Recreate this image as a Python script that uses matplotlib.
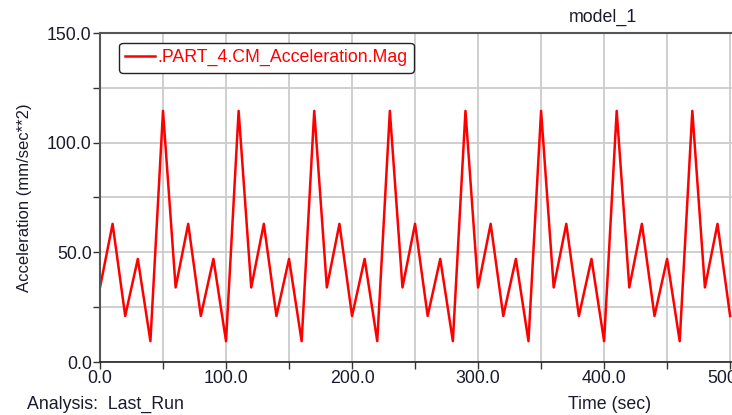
import numpy as np
import matplotlib.pyplot as plt
from matplotlib.ticker import MultipleLocator, FormatStrFormatter

plt.rcParams['font.family'] = ['Liberation Sans', 'DejaVu Sans']

# Acceleration magnitude of PART_4 CM, sampled every 10 s
time = [0, 10, 20, 30, 40, 50, 60, 70, 80, 90,
        100, 110, 120, 130, 140, 150, 160, 170, 180, 190,
        200, 210, 220, 230, 240, 250, 260, 270, 280, 290,
        300, 310, 320, 330, 340, 350, 360, 370, 380, 390,
        400, 410, 420, 430, 440, 450, 460, 470, 480, 490, 500]
accel = [34, 63, 21, 47, 9.5, 114.5, 34, 63, 21, 47,
         9.5, 114.5, 34, 63, 21, 47, 9.5, 114.5, 34, 63,
         21, 47, 9.5, 114.5, 34, 63, 21, 47, 9.5, 114.5,
         34, 63, 21, 47, 9.5, 114.5, 34, 63, 21, 47,
         9.5, 114.5, 34, 63, 21, 47, 9.5, 114.5, 34, 63, 21]

fs = 12.8
txt = '#1a1a2e'

fig = plt.figure(figsize=(7.32, 4.15), dpi=100)
ax = fig.add_axes([100/732, 1-362/415, 632/732, 329/415])

ax.plot(time, accel, color='#ff0000', lw=1.8, label='.PART_4.CM_Acceleration.Mag')

ax.set_xlim(0, 501.5)
ax.set_ylim(0, 150)
ax.xaxis.set_major_locator(MultipleLocator(100))
ax.xaxis.set_minor_locator(MultipleLocator(50))
ax.yaxis.set_major_locator(MultipleLocator(50))
ax.yaxis.set_minor_locator(MultipleLocator(25))
ax.xaxis.set_major_formatter(FormatStrFormatter('%.1f'))
ax.yaxis.set_major_formatter(FormatStrFormatter('%.1f'))
ax.grid(which='both', color='#cccccc', lw=1.3)
ax.set_axisbelow(True)
ax.tick_params(which='both', direction='out', length=5, width=1, color='#333333',
               labelsize=fs, labelcolor=txt, pad=1)

for side in ['top', 'left']:
    ax.spines[side].set_color('#555555')
    ax.spines[side].set_linewidth(1.5)
ax.spines['bottom'].set_color('#222222')
ax.spines['bottom'].set_linewidth(1.2)
ax.spines['right'].set_visible(False)

ax.set_ylabel('Acceleration (mm/sec**2)', fontsize=12, color=txt, labelpad=11)
fig.text(610/732, 1-404/415, 'Time (sec)', fontsize=fs, color=txt, ha='center', va='center')
fig.text(27/732, 1-404/415, 'Analysis:  Last_Run', fontsize=fs, color=txt, ha='left', va='center')
fig.text(603/732, 1-17/415, 'model_1', fontsize=fs, color=txt, ha='center', va='center')

leg = ax.legend(loc='upper left', bbox_to_anchor=(0.03, 0.97), fontsize=fs,
                handlelength=1.7, handletextpad=0.1, borderpad=0.35, borderaxespad=0,
                labelcolor='#ff0000', fancybox=True, framealpha=1,
                edgecolor='#222222')
leg.get_frame().set_linewidth(1.0)

fig.savefig('out.png', dpi=100)
